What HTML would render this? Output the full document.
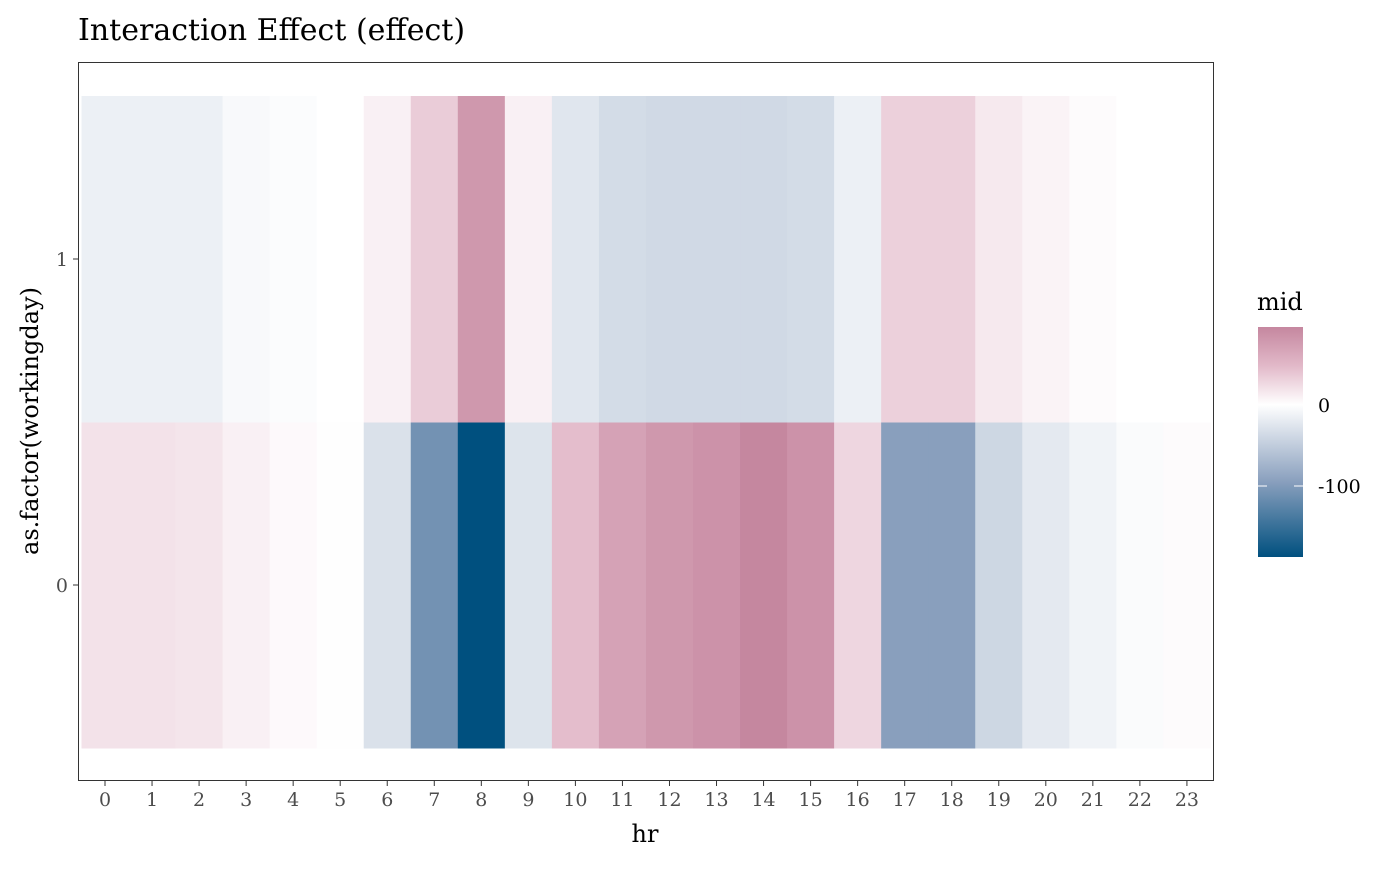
<!DOCTYPE html>
<html><head><meta charset="utf-8"><style>
body{margin:0;background:#fff;}
svg text{font-family:"DejaVu Serif","Liberation Serif",serif;}
</style></head><body>
<svg id="chart" width="1400" height="865" xmlns="http://www.w3.org/2000/svg">
<text x="78" y="40" font-size="30" fill="#000">Interaction Effect (effect)</text>
<rect x="78.5" y="62.5" width="1135" height="718" fill="#fff" stroke="#333" stroke-width="1"/>
<g id="tiles"></g>
<g id="xaxis"></g>
<g id="yaxis"></g>
<text x="645" y="842" font-size="24" text-anchor="middle">hr</text>
<text transform="translate(38,421) rotate(-90)" font-size="24" text-anchor="middle">as.factor(workingday)</text>
<g>
<text x="1257" y="310" font-size="24">mid</text>
<defs><linearGradient id="lg" x1="0" y1="0" x2="0" y2="1">
<stop offset="0" stop-color="#c5879f"/><stop offset="0.17" stop-color="#e2b9c9"/><stop offset="0.338" stop-color="#ffffff"/><stop offset="0.67" stop-color="#8aa0be"/><stop offset="1" stop-color="#00507f"/></linearGradient></defs>
<rect x="1258" y="327" width="45" height="230" fill="url(#lg)"/>
<g id="legticks"></g>
</g>
</svg>
<script>
const hours=[0,1,2,3,4,5,6,7,8,9,10,11,12,13,14,15,16,17,18,19,20,21,22,23];
const rows=[0,1];
const row0Values=[20,20,18,10,4,-1,-30,-110,-188,-27,45,70,80,85,96,85,28,-95,-95,-40,-22,-12,-4,3];
const row1Values=[-15,-15,-15,-6,-3,0,10,35,80,10,-25,-35,-38,-38,-38,-35,-15,32,32,15,8,3,0,0];
const legendTicks=[0,-100];
const NS="http://www.w3.org/2000/svg";
const x=h=>105+(h-hours[0])*47.04;
const y=r=>585-(r-rows[0])*326;
const legY=v=>405-v*0.81;
function lerp(a,b,t){return a.map((c,i)=>Math.round(c+(b[i]-c)*t));}
function color(v){
 const W=[255,255,255];
 if(v<0){const t=Math.min(1,-v/188);
  return t<0.5?lerp(W,[138,160,190],t/0.5):lerp([138,160,190],[0,80,127],(t-0.5)/0.5);}
 const t=Math.min(1,v/96);
 return t<0.5?lerp(W,[226,185,201],t/0.5):lerp([226,185,201],[197,135,159],(t-0.5)/0.5);
}
const g=document.getElementById('tiles');
[[0,row0Values],[1,row1Values]].forEach(([r,vals])=>{
 vals.forEach((v,i)=>{
  const c=color(v);
  const el=document.createElementNS(NS,'rect');
  el.setAttribute('x',x(hours[i])-23.52);el.setAttribute('y',y(r)-163);
  el.setAttribute('width',47.6);el.setAttribute('height',326.5);
  el.setAttribute('fill',`rgb(${c[0]},${c[1]},${c[2]})`);
  
  
  g.appendChild(el);
 });
});
const xa=document.getElementById('xaxis');
hours.forEach(h=>{
 const t=document.createElementNS(NS,'line');
 t.setAttribute('x1',x(h));t.setAttribute('x2',x(h));t.setAttribute('y1',781);t.setAttribute('y2',786);t.setAttribute('stroke','#333');
 
 
 xa.appendChild(t);
 const l=document.createElementNS(NS,'text');
 l.setAttribute('x',x(h));l.setAttribute('y',806);l.setAttribute('font-size','19');l.setAttribute('fill','#4d4d4d');l.setAttribute('text-anchor','middle');
 l.textContent=h;
 
 
 xa.appendChild(l);
});
const ya=document.getElementById('yaxis');
rows.forEach(r=>{
 const t=document.createElementNS(NS,'line');
 t.setAttribute('x1',73);t.setAttribute('x2',78);t.setAttribute('y1',y(r));t.setAttribute('y2',y(r));t.setAttribute('stroke','#333');
 
 
 ya.appendChild(t);
 const l=document.createElementNS(NS,'text');
 l.setAttribute('x',68);l.setAttribute('y',y(r)+7);l.setAttribute('font-size','19');l.setAttribute('fill','#4d4d4d');l.setAttribute('text-anchor','end');
 l.textContent=r;
 
 
 ya.appendChild(l);
});
const lt=document.getElementById('legticks');
legendTicks.forEach(v=>{
 [[1258,1267],[1294,1303]].forEach(([a,b])=>{
  const t=document.createElementNS(NS,'line');
  t.setAttribute('x1',a);t.setAttribute('x2',b);t.setAttribute('y1',legY(v));t.setAttribute('y2',legY(v));t.setAttribute('stroke','#fff');
  
  
  lt.appendChild(t);
 });
 const l=document.createElementNS(NS,'text');
 l.setAttribute('x',1318);l.setAttribute('y',legY(v)+7);l.setAttribute('font-size','19');l.setAttribute('fill','#000');
 l.textContent=v;
 
 
 lt.appendChild(l);
});
</script>
</body></html>
